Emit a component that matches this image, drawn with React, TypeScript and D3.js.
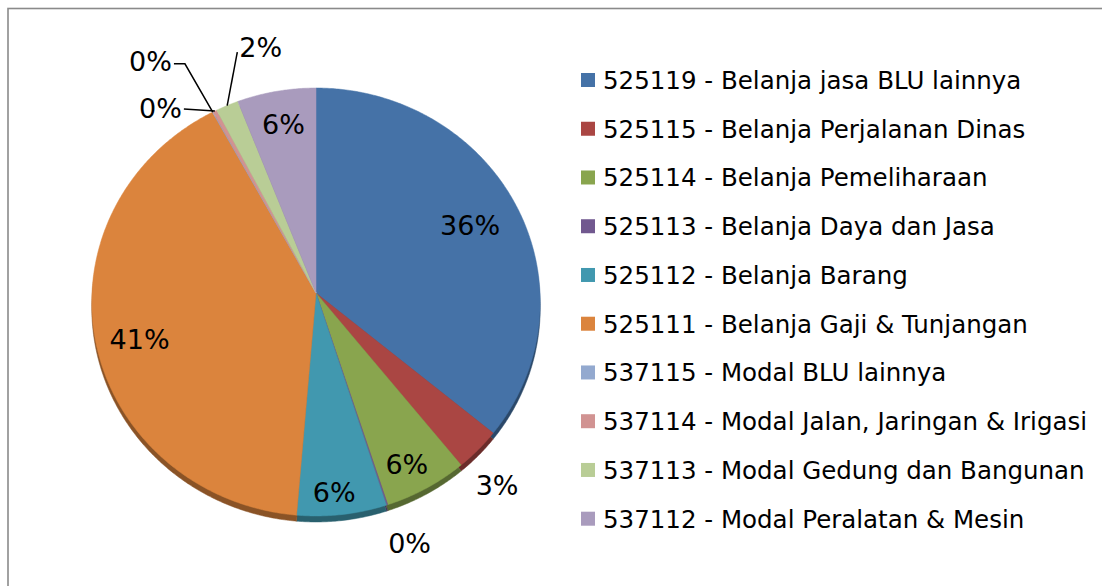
import React from "react";
import * as d3 from "d3";

const categories = [
  "525119 - Belanja jasa BLU lainnya",
  "525115 - Belanja Perjalanan Dinas",
  "525114 - Belanja Pemeliharaan",
  "525113 - Belanja Daya dan Jasa",
  "525112 - Belanja Barang",
  "525111 - Belanja Gaji & Tunjangan",
  "537115 - Modal BLU lainnya",
  "537114 - Modal Jalan, Jaringan & Irigasi",
  "537113 - Modal Gedung dan Bangunan",
  "537112 - Modal Peralatan & Mesin",
];
const values = [36.0, 3.2, 5.8, 0.1, 6.2, 40.7, 0.05, 0.3, 1.7, 5.9];
const colors = [
  "#4572A7",
  "#AA4643",
  "#89A54E",
  "#71588F",
  "#4198AF",
  "#DB843D",
  "#93A9CF",
  "#D19392",
  "#B9CD96",
  "#A99BBD",
];

// label layout (style config, not data): radius fraction and angle nudge in degrees
type LabelCfg = {
  r: number;
  da?: number;
  leader?: { angle?: number; r: number; tail: number; anchor: string; dy: number };
};
const labelLayout: LabelCfg[] = [
  { r: 0.768, da: 0.4 },
  { r: 1.165, da: 2.6 },
  { r: 0.868, da: 1.5 },
  { r: 1.185, da: -1.9 },
  { r: 0.9, da: 1.4 },
  { r: 0.81, da: -3.6 },
  { r: 1, leader: { angle: 331.4, r: 1.28, tail: -11, anchor: "end", dy: -2 } },
  { r: 1, leader: { r: 1.0, tail: -31, anchor: "end", dy: -1 } },
  { r: 1, leader: { angle: 342.7, r: 1.24, tail: 0, anchor: "start", dy: -5 } },
  { r: 0.832, da: 0.2 },
];

const W = 1102;
const H = 586;
const cx = 316;
const cy = 293;
const A = 213.6;
const B = 224;
const K = -0.042;
const depth = 6;
const FONT = "'DejaVu Sans', Verdana, sans-serif";
const FS = 24.5;
const LFS = 27;

function proj(theta: number, r: number): [number, number] {
  const u = r * Math.sin(theta);
  const v = -r * Math.cos(theta);
  const d = 1 + K * v;
  return [cx + (B * u) / d, cy + (A * v) / d];
}

export default function App() {
  const total = d3.sum(values);
  const arcs = d3
    .pie<number>()
    .sort(null)
    .value((d) => d)(values);
  const line = d3.line();
  const fmt = d3.format(".0%");

  const slicePath = (a0: number, a1: number, dy = 0) => {
    const pts: [number, number][] = [[cx, cy + dy]];
    const n = Math.max(2, Math.ceil(((a1 - a0) * 180) / Math.PI / 0.5));
    for (let i = 0; i <= n; i++) {
      const t = a0 + ((a1 - a0) * i) / n;
      const p = proj(t, 1);
      pts.push([p[0], p[1] + dy]);
    }
    return line(pts) + "Z";
  };

  const rowY = d3.scaleLinear().domain([0, categories.length - 1]).range([80, 518.7]);

  return (
    <svg
      width={W}
      height={H}
      style={{ position: "absolute", left: 0, top: 0, background: "#fff" }}
      fontFamily={FONT}
    >
      <rect x={0} y={0} width={W} height={H} fill="#fff" />
      <rect x={8} y={8.5} width={W + 20} height={H + 20} fill="none" stroke="#8a8a8a" strokeWidth={1.6} />
      {/* side (depth) */}
      <g>
        {arcs.map((a, i) => (
          <path
            key={"s" + i}
            d={slicePath(a.startAngle, a.endAngle, depth)}
            fill={d3.color(colors[i])!.darker(1.3).formatHex()}
            stroke={d3.color(colors[i])!.darker(1.3).formatHex()}
            strokeWidth={0.5}
          />
        ))}
      </g>
      {/* top */}
      <g>
        {arcs.map((a, i) => (
          <path
            key={"t" + i}
            d={slicePath(a.startAngle, a.endAngle)}
            fill={colors[i]}
            stroke={colors[i]}
            strokeWidth={0.5}
          />
        ))}
      </g>
      {/* labels */}
      <g fontSize={LFS} fill="#000">
        {arcs.map((a, i) => {
          const cfg = labelLayout[i];
          const mid = (a.startAngle + a.endAngle) / 2;
          const txt = fmt(a.value / total);
          if (cfg.leader) {
            const L = cfg.leader;
            const start = proj(mid, 1);
            const elbowAngle = L.angle !== undefined ? (L.angle * Math.PI) / 180 : mid;
            const elbow = proj(elbowAngle, L.r);
            const tail: [number, number] = [elbow[0] + L.tail, elbow[1] - (L.tail < -20 ? 2 : 0)];
            const tx = L.anchor === "end" ? tail[0] - 2 : tail[0] + 2;
            return (
              <g key={"l" + i}>
                <path
                  d={line([start, elbow, tail])!}
                  fill="none"
                  stroke="#000"
                  strokeWidth={1.5}
                />
                <text x={tx} y={tail[1] + L.dy} dy="0.36em" textAnchor={L.anchor as any}>
                  {txt}
                </text>
              </g>
            );
          }
          const p = proj(mid + ((cfg.da || 0) * Math.PI) / 180, cfg.r);
          return (
            <text key={"l" + i} x={p[0]} y={p[1]} dy="0.36em" textAnchor="middle">
              {txt}
            </text>
          );
        })}
      </g>
      {/* legend */}
      <g fontSize={FS} fill="#000">
        {categories.map((c, i) => (
          <g key={"g" + i} transform={`translate(581,${rowY(i)})`}>
            <rect x={0} y={-7} width={14} height={14} fill={colors[i]} />
            <text x={22} y={0} dy="0.36em">
              {c}
            </text>
          </g>
        ))}
      </g>
    </svg>
  );
}
